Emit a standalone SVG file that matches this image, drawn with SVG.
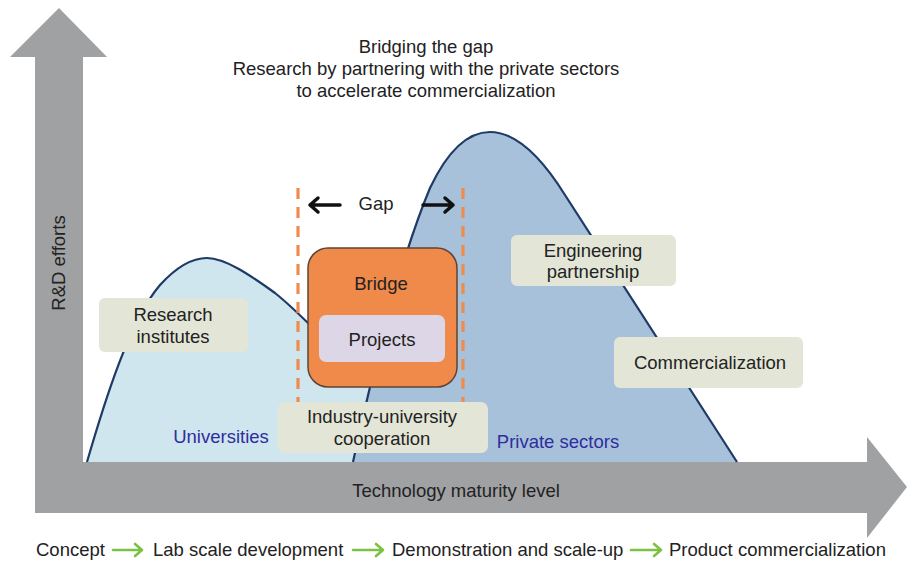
<svg xmlns="http://www.w3.org/2000/svg" width="907" height="561" viewBox="0 0 907 561">
<defs>
<style>
text{font-family:"Liberation Sans",Arial,sans-serif;font-size:18.5px;fill:#222}
.c{text-anchor:middle}
.blue{fill:#2e2e9c}
.lbl{fill:#e3e6d6}
.curve{fill:none;stroke:#1e3a66;stroke-width:2.2}
.dash{stroke:#ef8b4c;stroke-width:3.2;stroke-dasharray:11 8;fill:none}
.gap{stroke:#111;stroke-width:3.5;fill:none;stroke-linecap:round;stroke-linejoin:round}
.grn{stroke:#7cc242;stroke-width:2.6;fill:none;stroke-linecap:round;stroke-linejoin:round}
</style>
</defs>
<rect width="907" height="561" fill="#fff"/>
<g id="axes">
<polygon points="10,57 59,8 107,57 83,57 83,462 867,462 867,437 907,487 867,538 867,513 35,513 35,57" fill="#a0a1a3"/>
<text x="456" y="497" class="c">Technology maturity level</text>
<text transform="translate(65,263) rotate(-90)" class="c">R&amp;D efforts</text>
</g>
<g id="universities-curve">
<path d="M87,462 C105,400 130,320 160,285 C180,263 195,258 207,258 C225,258 250,275 275,293 C290,305 300,315 315,330 L362,380 L420,380 L420,462 Z" fill="#cfe6ef"/>
<path class="curve" d="M87,462 C105,400 130,320 160,285 C180,263 195,258 207,258 C225,258 250,275 275,293 C290,305 300,315 315,330 L362,380"/>
</g>
<g id="private-curve">
<path d="M353,462 C375,360 400,260 430,188 C448,150 468,132 490,132 C515,132 540,155 565,195 L737,462 Z" fill="#a8c1da"/>
<path class="curve" d="M353,462 C375,360 400,260 430,188 C448,150 468,132 490,132 C515,132 540,155 565,195 L737,462"/>
</g>
<g id="title">
<text x="426" y="53" class="c">Bridging the gap</text>
<text x="426" y="75" class="c">Research by partnering with the private sectors</text>
<text x="426" y="97" class="c">to accelerate commercialization</text>
</g>
<g id="connectors">
<line class="dash" x1="298" y1="188" x2="298" y2="402"/>
<line class="dash" x1="463" y1="188" x2="463" y2="402"/>
<path class="gap" d="M340,205 H310 M318,198 L310,205 L318,212"/>
<path class="gap" d="M423,205 H453 M445,198 L453,205 L445,212"/>
<path class="grn" d="M113,550 H142 M135,544 L142,550 L135,556"/>
<path class="grn" d="M353,550 H383 M376,544 L383,550 L376,556"/>
<path class="grn" d="M631,550 H661 M654,544 L661,550 L654,556"/>
</g>
<g id="gap-label"><text x="376" y="210" class="c">Gap</text></g>
<g id="bridge">
<rect x="308" y="248" width="149" height="139" rx="20" fill="#f08a4b" stroke="#5c4535" stroke-width="1.5"/>
<text x="381" y="290" class="c">Bridge</text>
</g>
<g id="projects">
<rect x="319" y="315" width="126" height="47" rx="7" fill="#ddd6e6"/>
<text x="382" y="346" class="c">Projects</text>
</g>
<g id="research-institutes">
<rect class="lbl" x="99" y="298" width="149" height="54" rx="6"/>
<text x="173" y="321" class="c">Research</text>
<text x="173" y="343" class="c">institutes</text>
</g>
<g id="industry-university">
<rect class="lbl" x="278" y="402" width="210" height="51" rx="7"/>
<text x="382" y="423" class="c">Industry-university</text>
<text x="382" y="445" class="c">cooperation</text>
</g>
<g id="engineering">
<rect class="lbl" x="511" y="235" width="165" height="51" rx="6"/>
<text x="593" y="257" class="c">Engineering</text>
<text x="593" y="278" class="c">partnership</text>
</g>
<g id="commercialization">
<rect class="lbl" x="614" y="337" width="189" height="51" rx="6"/>
<text x="710" y="369" class="c">Commercialization</text>
</g>
<g id="universities"><text x="221" y="443" class="c blue">Universities</text></g>
<g id="private-sectors"><text x="558" y="448" class="c blue">Private sectors</text></g>
<g id="stages">
<text x="36" y="556">Concept</text>
<text x="153" y="556">Lab scale development</text>
<text x="392" y="556">Demonstration and scale-up</text>
<text x="669" y="556">Product commercialization</text>
</g>
</svg>
